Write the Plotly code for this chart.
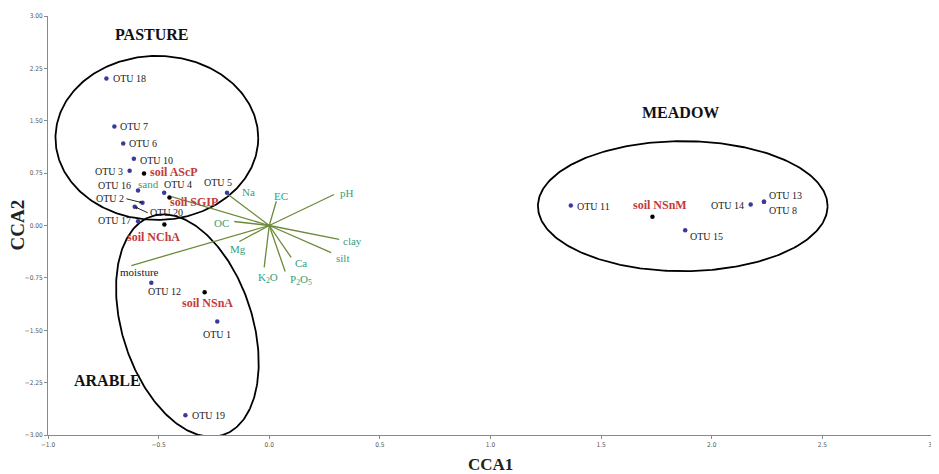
import numpy as np
import plotly.graph_objects as go

# ---------------- data ----------------
otu_names = ["OTU 18", "OTU 7", "OTU 6", "OTU 10", "OTU 3", "OTU 16", "OTU 4", "OTU 5",
             "OTU 2", "OTU 20", "OTU 17", "OTU 12", "OTU 1", "OTU 19",
             "OTU 11", "OTU 15", "OTU 14", "OTU 13", "OTU 8"]
otu_x = [-0.736, -0.70, -0.66, -0.612, -0.631, -0.593, -0.475, -0.191,
         -0.573, -0.608, -0.593, -0.533, -0.235, -0.379,
         1.363, 1.880, 2.176, 2.236, 2.236]
otu_y = [2.106, 1.418, 1.175, 0.955, 0.784, 0.501, 0.468, 0.468,
         0.325, 0.268, 0.062, -0.821, -1.375, -2.718,
         0.287, -0.067, 0.300, 0.340, 0.340]

soil_names = ["soil AScP", "soil SGIP", "soil NChA", "soil NSnA", "soil NSnM"]
soil_x = [-0.566, -0.451, -0.474, -0.292, 1.732]
soil_y = [0.745, 0.400, 0.014, -0.955, 0.125]

env_names = ["Na", "EC", "pH", "clay", "silt", "Ca", "P<sub>2</sub>O<sub>5</sub>",
             "K<sub>2</sub>O", "Mg", "OC", "moisture", "sand"]
env_x = [-0.186, 0.032, 0.293, 0.316, 0.280, 0.099, 0.072, -0.023, -0.135, -0.158, -0.623, -0.442]
env_y = [0.444, 0.348, 0.444, -0.200, -0.387, -0.458, -0.659, -0.600, -0.229, 0.057, -0.573, 0.415]

group_names = ["PASTURE", "MEADOW", "ARABLE"]
group_x = [-0.53, 1.86, -0.73]
group_y = [2.74, 1.62, -2.22]

x_ticks = [-1.0, -0.5, 0.0, 0.5, 1.0, 1.5, 2.0, 2.5, 3.0]
y_ticks = [-3.0, -2.25, -1.5, -0.75, 0.0, 0.75, 1.5, 2.25, 3.0]

# ellipse centres (data units)
ell_cx = [-0.508, 1.869, -0.370]
ell_cy = [1.254, 0.277, -1.433]

# ---------------- styles ----------------
SERIF = "Liberation Serif, Times New Roman, serif"
TICKFONT = "DejaVu Sans Condensed, Liberation Sans Narrow, sans-serif"
OTU_COLOR = "#3a3a9c"
GREEN_TXT = "#35a07a"
GREEN_LINE = "#6b8a3a"
RED_TXT = "#c23a3c"

# label placement (anchor, dx px right, dy px down); lead = arrow to the point
otu_lab = [("left", 5, 0), ("left", 4, 0), ("left", 4, 0), ("left", 4, 2), ("right", -5, 1),
           ("right", -5, -5), ("left", -2, -8), ("center", -9, -10),
           ("lead", -16, -4), ("lead", 13, 6), ("right", -5, -1), ("left", -5, 9),
           ("center", 0, 13), ("left", 5, 0),
           ("left", 4, 1), ("left", 3, 6), ("right", -5, 1), ("left", 3, -6), ("left", 3, 9)]
soil_lab = [("left", 4, -1), ("left", -1, 4), ("center", -11, 12), ("center", 3, 11), ("center", 8, -12)]
env_lab = [("left", 12, -2), ("center", 5, -5), ("left", 4, -1), ("left", 2, 2), ("left", 3, 5),
           ("left", 2, 6), ("left", 3, 8), ("center", 4, 11), ("center", -1, 8), ("right", -3, 1),
           ("center", 8, 6), ("right", -10, -13)]
env_colors = [GREEN_TXT] * 10 + ["#1a1a1a", GREEN_TXT]

fig = go.Figure()

# ---- ellipses (semi-axes in screen px so shapes keep their look) ----
PXX, PXY = 221.5, 69.83
t = np.linspace(0, 2 * np.pi, 300)
ell_a = [101.5, 145.0, 115.0]
ell_b = [82.0, 65.0, 65.0]
ell_u = [(1.0, 0.0), (1.0, 0.0), (0.311, 0.951)]
for cx, cy, a, b, u in zip(ell_cx, ell_cy, ell_a, ell_b, ell_u):
    vx, vy = u[1], -u[0]
    px = a * np.cos(t) * u[0] + b * np.sin(t) * vx
    py = a * np.cos(t) * u[1] + b * np.sin(t) * vy
    fig.add_trace(go.Scatter(x=cx + px / PXX, y=cy - py / PXY, mode="lines",
                             line=dict(color="black", width=1.8), hoverinfo="skip",
                             showlegend=False))

# ---- environmental vectors ----
vx_l, vy_l = [], []
for ex, ey in zip(env_x, env_y):
    vx_l += [0, ex, None]
    vy_l += [0, ey, None]
fig.add_trace(go.Scatter(x=vx_l, y=vy_l, mode="lines",
                         line=dict(color=GREEN_LINE, width=1.3), hoverinfo="skip",
                         showlegend=False))

# ---- points ----
fig.add_trace(go.Scatter(x=otu_x, y=otu_y, mode="markers",
                         marker=dict(color=OTU_COLOR, size=4.5), showlegend=False))
fig.add_trace(go.Scatter(x=soil_x, y=soil_y, mode="markers",
                         marker=dict(color="black", size=4.5), showlegend=False))


def add_label(x, y, text, lab, size, color):
    anchor, dx, dy = lab
    if anchor == "lead":
        fig.add_annotation(x=x, y=y, text=text, ax=dx, ay=dy, showarrow=True,
                           arrowhead=2, arrowsize=0.6, arrowwidth=1, arrowcolor="#222",
                           xanchor="right" if dx < 0 else "left", yanchor="middle",
                           font=dict(family=SERIF, size=size, color=color))
    else:
        fig.add_annotation(x=x, y=y, text=text, showarrow=False, xanchor=anchor,
                           yanchor="middle", xshift=dx, yshift=-dy,
                           font=dict(family=SERIF, size=size, color=color))


for nm, x, y, lab in zip(otu_names, otu_x, otu_y, otu_lab):
    add_label(x, y, nm, lab, 10, "#1a1a1a")
for nm, x, y, lab in zip(soil_names, soil_x, soil_y, soil_lab):
    add_label(x, y, "<b>" + nm + "</b>", lab, 12, RED_TXT)
for nm, x, y, lab, c in zip(env_names, env_x, env_y, env_lab, env_colors):
    add_label(x, y, nm, lab, 11, c)

# ---- group labels ----
for gname, gx, gy in zip(group_names, group_x, group_y):
    fig.add_annotation(x=gx, y=gy, text="<b>" + gname + "</b>", showarrow=False,
                       font=dict(family=SERIF, size=16, color="#111"))

# ---- axis titles ----
fig.add_annotation(x=0.5, y=0.0, xref="paper", yref="paper", yshift=-29, text="<b>CCA1</b>",
                   showarrow=False, yanchor="middle", borderpad=0,
                   font=dict(family=SERIF, size=17, color="#222"))
fig.add_annotation(x=0, y=0.5, xref="paper", yref="paper", xshift=-31, text="<b>CCA2</b>",
                   showarrow=False, textangle=-90, xanchor="center", borderpad=0,
                   font=dict(family=SERIF, size=19, color="#222"))

axis_common = dict(showgrid=False, zeroline=False, showline=True, linecolor="#8a8a8a",
                   linewidth=1, ticks="outside", ticklen=3, tickcolor="#8a8a8a",
                   automargin=False,
                   tickfont=dict(family=TICKFONT, size=6.5, color="#555"))
fig.update_xaxes(range=[-1.0, 3.0], tickvals=x_ticks, tickformat=".1f", **axis_common)
fig.update_yaxes(range=[-3.0, 3.0], tickvals=y_ticks, tickformat=".2f", **axis_common)

# the page body adds an 8px offset, so the figure is sized to fit the remaining window
fig.update_layout(width=931, height=466, plot_bgcolor="white", paper_bgcolor="white",
                  margin=dict(l=40, r=6, t=8, b=39, autoexpand=False), showlegend=False)

fig.write_html("out.html")
